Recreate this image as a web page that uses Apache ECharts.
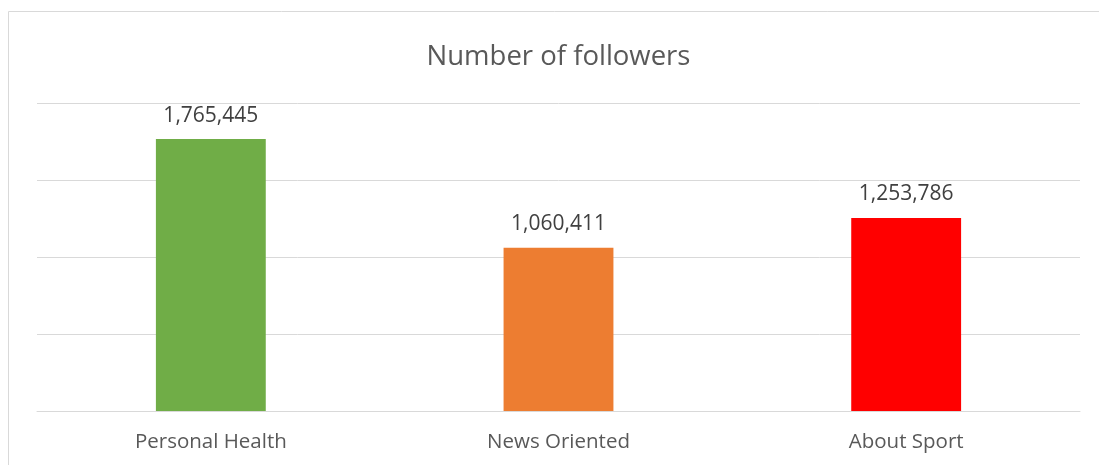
<!DOCTYPE html>
<html><head><meta charset="utf-8">
<script src="https://cdn.jsdelivr.net/npm/echarts@6/dist/echarts.min.js"></script>
<style>html,body{margin:0;padding:0;background:#fff}#c{width:1099px;height:465px}</style>
</head><body><div id="c"></div>
<script>
var categories = ['Personal Health', 'News Oriented', 'About Sport'];
var followers = [1765445, 1060411, 1253786];
var barColors = ['#70AD47', '#ED7D31', '#FF0000'];
var titleText = 'Number of followers';

var chart = echarts.init(document.getElementById('c'), null, {renderer: 'canvas'});
var font = '"Open Sans", sans-serif';
chart.setOption({
  animation: false,
  title: {text: titleText, left: 553.5, textAlign: 'center', top: 38, textStyle: {fontFamily: font, fontSize: 27.5, fontWeight: 'normal', color: '#595959'}},
  graphic: [{type: 'rect', shape: {x: 8.5, y: 11.5, width: 1200, height: 600}, style: {fill: 'none', stroke: '#d9d9d9', lineWidth: 1}, silent: true}],
  grid: {left: 37, right: 19, top: 103, bottom: 54},
  xAxis: {type: 'category', data: categories,
    axisLine: {lineStyle: {color: '#d9d9d9', width: 1}}, axisTick: {show: false},
    axisLabel: {fontFamily: font, fontSize: 20.5, color: '#595959', margin: 21}},
  yAxis: {type: 'value', min: 0, max: 2000000, interval: 500000,
    axisLabel: {show: false}, axisLine: {show: false}, axisTick: {show: false},
    splitLine: {lineStyle: {color: '#d9d9d9', width: 1}}},
  series: [{type: 'bar', barWidth: '31.6%',
    data: followers.map(function (v, i) { return {value: v, itemStyle: {color: barColors[i]}}; }),
    label: {show: true, position: 'top', distance: 13, fontFamily: font, fontSize: 21, color: '#404040',
      formatter: function (p) { return p.value.toLocaleString('en-US'); }}}]
});
</script></body></html>
